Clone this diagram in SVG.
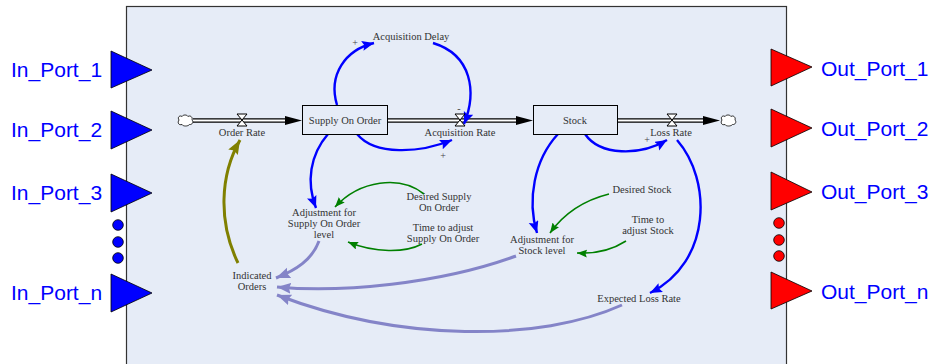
<svg xmlns="http://www.w3.org/2000/svg" width="933" height="364" viewBox="0 0 933 364">
  <style>
    .lbl { font-family: "Liberation Serif", "Times New Roman", serif; font-size: 10.5px; fill: #333; text-anchor: middle; }
    .sign { font-family: "Liberation Serif", "Times New Roman", serif; font-size: 10px; fill: #444; text-anchor: middle; }
    .port { font-family: "Liberation Sans", Arial, sans-serif; font-size: 21px; fill: #0000FF; }
    .inport { fill: #0000FF; stroke: #000; stroke-width: 0.8; }
    .outport { fill: #FF0000; stroke: #000; stroke-width: 0.8; }
    .box { fill: #E6ECF7; stroke: #333; stroke-width: 1.2; }
    .pipe-out { fill: none; stroke: #000; stroke-width: 4.6; }
    .pipe-in { fill: none; stroke: #fff; stroke-width: 2; }
    .valve { fill: #fff; stroke: #000; stroke-width: 1; }
    .cloud { fill: #fff; stroke: #000; stroke-width: 0.8; }
    .blue { fill: none; stroke: #0000FF; stroke-width: 2.4; }
    .green { fill: none; stroke: #008000; stroke-width: 1.6; }
    .purple { fill: none; stroke: #8484C8; stroke-width: 3; }
    .olive { fill: none; stroke: #808000; stroke-width: 3; }
  </style>
  <defs>
    <marker id="ahBlue" markerUnits="userSpaceOnUse" markerWidth="14" markerHeight="12" refX="12" refY="5" orient="auto">
      <path d="M0,0 L12,5 L0,10 L2,5 z" fill="#0000FF"/>
    </marker>
    <marker id="ahGreen" markerUnits="userSpaceOnUse" markerWidth="12" markerHeight="10" refX="10" refY="4" orient="auto">
      <path d="M0,0 L10,4 L0,8 L1.5,4 z" fill="#008000"/>
    </marker>
    <marker id="ahPurple" markerUnits="userSpaceOnUse" markerWidth="16" markerHeight="12" refX="14" refY="5.5" orient="auto">
      <path d="M0,0 L14,5.5 L0,11 L2,5.5 z" fill="#8484C8"/>
    </marker>
    <marker id="ahOlive" markerUnits="userSpaceOnUse" markerWidth="16" markerHeight="12" refX="14" refY="5.5" orient="auto">
      <path d="M0,0 L14,5.5 L0,11 L2,5.5 z" fill="#808000"/>
    </marker>
    <marker id="ahFlow" markerUnits="userSpaceOnUse" markerWidth="18" markerHeight="10" refX="17" refY="4.5" orient="auto">
      <path d="M0,0 L17,4.5 L0,9 z" fill="#000"/>
    </marker>
    <path id="cloudShape" d="M2,5 C0,2 3,0 5,1.5 C6,-0.5 10,-0.5 11,1.5 C13,0 16,2 15,5 C17,7 15,10 12.5,9.5 C11,11.5 6,11.5 5,9.5 C2,10.5 0,8 2,5 z"/>
  </defs>

  <!-- module frame -->
  <rect class="box" x="126.5" y="6.5" width="660" height="370"/>

  <!-- input ports -->
  <g id="in-port-1"><polygon class="inport" points="111,51 152,70 111,88"/><text class="port" x="11" y="77">In_Port_1</text></g>
  <g id="in-port-2"><polygon class="inport" points="111,111 152,130 111,149"/><text class="port" x="11" y="137">In_Port_2</text></g>
  <g id="in-port-3"><polygon class="inport" points="111,174 152,193 111,212"/><text class="port" x="11" y="200">In_Port_3</text></g>
  <g id="in-port-dots">
    <circle class="inport" cx="118" cy="225" r="5.3"/>
    <circle class="inport" cx="118" cy="242" r="5.3"/>
    <circle class="inport" cx="118" cy="258" r="5.3"/>
  </g>
  <g id="in-port-n"><polygon class="inport" points="111,274 152,293 111,312"/><text class="port" x="11" y="300">In_Port_n</text></g>

  <!-- output ports -->
  <g id="out-port-1"><polygon class="outport" points="771,49 812,67 771,86"/><text class="port" x="821" y="76">Out_Port_1</text></g>
  <g id="out-port-2"><polygon class="outport" points="771,109 812,128 771,147"/><text class="port" x="821" y="136">Out_Port_2</text></g>
  <g id="out-port-3"><polygon class="outport" points="771,172 812,192 771,210"/><text class="port" x="821" y="199">Out_Port_3</text></g>
  <g id="out-port-dots">
    <circle class="outport" cx="779" cy="223" r="5.3"/>
    <circle class="outport" cx="779" cy="240" r="5.3"/>
    <circle class="outport" cx="779" cy="256" r="5.3"/>
  </g>
  <g id="out-port-n"><polygon class="outport" points="771,272 812,291 771,309"/><text class="port" x="821" y="299">Out_Port_n</text></g>

  <!-- flow pipes -->
  <g id="flows">
    <path class="pipe-out" d="M193,120.5 H286"/>
    <path class="pipe-in" d="M193,120.5 H286"/>
    <path d="M284,120.5 H302" stroke="none" marker-end="url(#ahFlow)"/>
    <path class="pipe-out" d="M387,120.5 H517"/>
    <path class="pipe-in" d="M387,120.5 H517"/>
    <path d="M515,120.5 H533" stroke="none" marker-end="url(#ahFlow)"/>
    <path class="pipe-out" d="M617,120.5 H704"/>
    <path class="pipe-in" d="M617,120.5 H704"/>
    <path d="M702,120.5 H720" stroke="none" marker-end="url(#ahFlow)"/>
  </g>

  <!-- connectors -->
  <g id="connectors">
    <path class="blue" d="M337,105 C328,75 345,50 374,43" marker-end="url(#ahBlue)"/>
    <path class="blue" d="M433,43 C472,55 477,92 464,124" marker-end="url(#ahBlue)"/>
    <path class="blue" d="M357,134 C375,156 420,153 452,140" marker-end="url(#ahBlue)"/>
    <path class="blue" d="M328,134 C310,155 306,182 316,208" marker-end="url(#ahBlue)"/>
    <path class="blue" d="M585,134 C600,156 640,156 667,140" marker-end="url(#ahBlue)"/>
    <path class="blue" d="M558,134 C534,160 527,200 537,233" marker-end="url(#ahBlue)"/>
    <path class="blue" d="M677,140 C712,180 712,262 650,293" marker-end="url(#ahBlue)"/>
    <path class="green" d="M424,194 C400,175 360,180 335,207" marker-end="url(#ahGreen)"/>
    <path class="green" d="M422,244 C405,253 375,253 348,242" marker-end="url(#ahGreen)"/>
    <path class="green" d="M609,194 C585,200 565,212 550,233" marker-end="url(#ahGreen)"/>
    <path class="green" d="M626,241 C612,250 595,254 577,253" marker-end="url(#ahGreen)"/>
    <path class="olive" d="M238,263 C218,222 220,175 240,140" marker-end="url(#ahOlive)"/>
    <path class="purple" d="M319,241 C312,260 296,270 276,278" marker-end="url(#ahPurple)"/>
    <path class="purple" d="M516,256 C440,284 340,293 277,287" marker-end="url(#ahPurple)"/>
    <path class="purple" d="M622,305 C540,342 400,342 277,295" marker-end="url(#ahPurple)"/>
  </g>

  <!-- sources and sinks -->
  <g id="source"><use href="#cloudShape" class="cloud" x="177" y="115"/></g>
  <g id="sink"><use href="#cloudShape" class="cloud" x="720" y="115"/></g>

  <!-- stocks -->
  <g id="supply-on-order">
    <rect x="302.5" y="105.5" width="85" height="29" fill="#E6ECF7" stroke="#000" stroke-width="1"/>
    <text class="lbl" x="345" y="124">Supply On Order</text>
  </g>
  <g id="stock">
    <rect x="533.5" y="105.5" width="84" height="29" fill="#E6ECF7" stroke="#000" stroke-width="1"/>
    <text class="lbl" x="575" y="124">Stock</text>
  </g>

  <!-- rates -->
  <g id="order-rate">
    <polygon class="valve" points="237,114 247,114 237,126 247,126"/>
    <text class="lbl" x="242" y="136">Order Rate</text>
  </g>
  <g id="acquisition-rate">
    <polygon class="valve" points="455,114 465,114 455,126 465,126"/>
    <text class="lbl" x="460" y="136">Acquisition Rate</text>
  </g>
  <g id="loss-rate">
    <polygon class="valve" points="667,114 677,114 667,126 677,126"/>
    <text class="lbl" x="671" y="136">Loss Rate</text>
  </g>

  <!-- auxiliaries -->
  <g id="acquisition-delay"><text class="lbl" x="411" y="40">Acquisition Delay</text></g>
  <g id="desired-supply-on-order"><text class="lbl" x="439" y="200">Desired Supply</text><text class="lbl" x="439" y="211">On Order</text></g>
  <g id="time-to-adjust-supply"><text class="lbl" x="443" y="231">Time to adjust</text><text class="lbl" x="443" y="242">Supply On Order</text></g>
  <g id="adjustment-supply"><text class="lbl" x="324" y="216">Adjustment for</text><text class="lbl" x="324" y="227">Supply On Order</text><text class="lbl" x="324" y="238">level</text></g>
  <g id="desired-stock"><text class="lbl" x="642" y="193">Desired Stock</text></g>
  <g id="time-to-adjust-stock"><text class="lbl" x="648" y="223">Time to</text><text class="lbl" x="648" y="234">adjust Stock</text></g>
  <g id="adjustment-stock"><text class="lbl" x="542" y="243">Adjustment for</text><text class="lbl" x="542" y="254">Stock level</text></g>
  <g id="indicated-orders"><text class="lbl" x="252" y="279">Indicated</text><text class="lbl" x="252" y="290">Orders</text></g>
  <g id="expected-loss-rate"><text class="lbl" x="639" y="302">Expected Loss Rate</text></g>

  <!-- polarity signs -->
  <g id="signs">
    <text class="sign" x="355" y="46">+</text>
    <text class="sign" x="459" y="112">-</text>
    <text class="sign" x="443" y="159">+</text>
    <text class="sign" x="647" y="143">+</text>
  </g>
</svg>
